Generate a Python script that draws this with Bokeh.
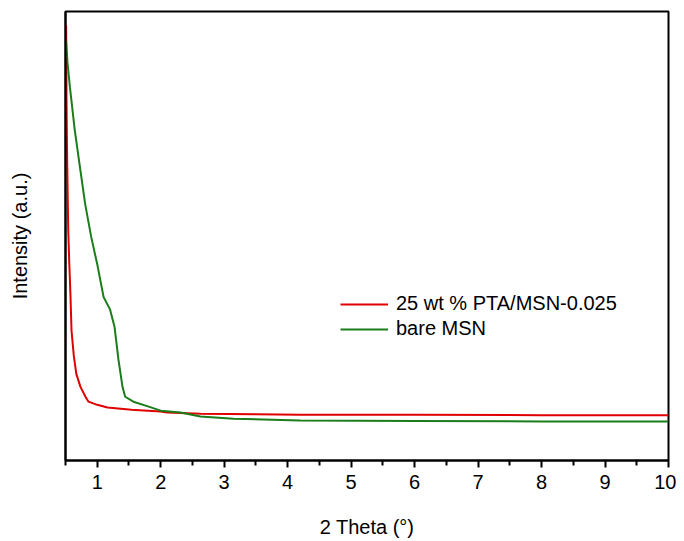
from bokeh.plotting import figure
from bokeh.models import FixedTicker, Range1d, Legend, LegendItem
from bokeh.embed import file_html
from bokeh.resources import INLINE

# 25 wt % PTA/MSN-0.025
red_x = [0.51, 0.516, 0.524, 0.543, 0.56, 0.579, 0.595, 0.631, 0.67, 0.736, 0.815, 0.862, 1.00, 1.161, 1.54, 1.996, 2.1, 2.626, 3.5, 4.2, 6.0, 8.0, 10.0]
red_y = [96.9, 80.2, 69.1, 51.3, 43.8, 36.4, 28.9, 23.3, 19.3, 16.4, 14.2, 13.1, 12.4, 11.8, 11.3, 10.9, 10.7, 10.4, 10.3, 10.2, 10.2, 10.1, 10.1]

# bare MSN
green_x = [0.51, 0.531, 0.57, 0.646, 0.712, 0.81, 0.905, 1.006, 1.10, 1.203, 1.272, 1.335, 1.398, 1.44, 1.57, 1.81, 2.0, 2.311, 2.626, 3.146, 4.2, 6.0, 8.0, 10.0]
green_y = [93.4, 88.7, 83.1, 73.6, 66.9, 57.1, 49.8, 43.3, 36.4, 33.6, 29.8, 22.4, 16.4, 14.2, 13.1, 12.0, 11.1, 10.7, 9.8, 9.3, 8.9, 8.8, 8.7, 8.7]

x_ticks = [1, 2, 3, 4, 5, 6, 7, 8, 9, 10]
x_minor = [0.5, 1.5, 2.5, 3.5, 4.5, 5.5, 6.5, 7.5, 8.5, 9.5]

FONT = "Liberation Sans"

p = figure(width=676, height=540, output_backend="svg", toolbar_location=None,
           x_range=Range1d(0.5, 10), y_range=Range1d(0, 100),
           min_border_left=65, min_border_right=8, min_border_top=11, min_border_bottom=79)

p.xgrid.visible = False
p.ygrid.visible = False
p.outline_line_color = "black"
p.outline_line_width = 2
p.outline_line_alpha = 1

r1 = p.line(red_x, red_y, line_color="#e00000", line_width=2)
r2 = p.line(green_x, green_y, line_color="#1a7d1a", line_width=2)

xa = p.xaxis[0]
xa.ticker = FixedTicker(ticks=x_ticks, minor_ticks=x_minor)
xa.axis_line_width = 2
xa.major_tick_line_width = 2
xa.minor_tick_line_width = 2
xa.major_tick_out = 7
xa.major_tick_in = 0
xa.minor_tick_out = 5
xa.minor_tick_in = 0
xa.major_label_text_font = FONT
xa.major_label_text_font_size = "20px"
xa.major_label_text_color = "black"
xa.major_label_standoff = 7
xa.axis_label = "2 Theta (°)"
xa.axis_label_text_font = FONT
xa.axis_label_text_font_size = "20px"
xa.axis_label_text_font_style = "normal"
xa.axis_label_text_color = "black"
xa.axis_label_standoff = 24

ya = p.yaxis[0]
ya.ticker = FixedTicker(ticks=[])
ya.major_label_text_font_size = "0px"
ya.major_tick_out = 0
ya.minor_tick_out = 0
ya.axis_line_width = 2
ya.axis_label = "Intensity (a.u.)"
ya.axis_label_text_font = FONT
ya.axis_label_text_font_size = "20px"
ya.axis_label_text_font_style = "normal"
ya.axis_label_text_color = "black"
ya.axis_label_standoff = 35

legend = Legend(items=[LegendItem(label="25 wt % PTA/MSN-0.025", renderers=[r1]),
                       LegendItem(label="bare MSN", renderers=[r2])],
                location=(275, 120))
legend.border_line_color = None
legend.background_fill_alpha = 0
legend.padding = 0
legend.margin = 0
legend.spacing = 2
legend.glyph_width = 48
legend.label_standoff = 8
legend.label_text_font = FONT
legend.label_text_font_size = "20px"
legend.label_text_color = "black"
p.add_layout(legend)

open("out.html", "w").write(file_html(p, INLINE))
